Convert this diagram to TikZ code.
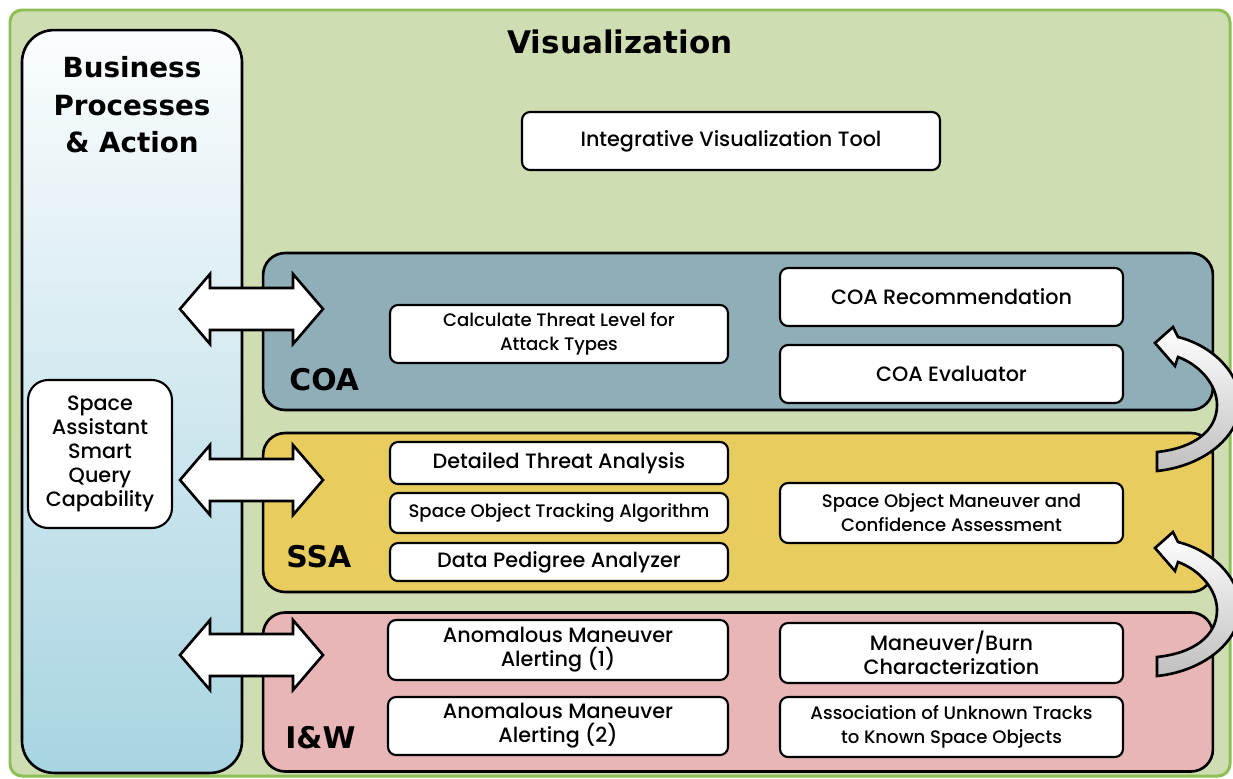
\documentclass[tikz,border=0pt]{standalone}
\usepackage{fontspec}
\IfFontExistsTF{Poppins Medium}{\setmainfont{Poppins Medium}}{\setmainfont{Poppins}}
\newfontfamily\headfont{DejaVu Sans}
\definecolor{vizgreen}{HTML}{CEDDB2}
\definecolor{vizedge}{HTML}{8DBF55}
\definecolor{bizblue}{HTML}{A8D4E2}
\definecolor{coafill}{HTML}{8FAEB7}
\definecolor{ssafill}{HTML}{E8CD5E}
\definecolor{iwfill}{HTML}{E8B6B6}
\tikzset{
  panel/.style={draw=black, line width=1.5pt, rounded corners=0.44cm, minimum width=19cm, inner sep=0},
  tool/.style={draw=black, fill=white, line width=1.2pt, rounded corners=0.16cm, align=center, inner sep=0,
    font=\fontsize{11.8}{13.6}\selectfont},
  smalltext/.style={font=\fontsize{10.3}{13.6}\selectfont},
  head/.style={font=\headfont\bfseries\fontsize{15.8}{21.3}\selectfont, align=center},
  layer/.style={font=\headfont\bfseries\fontsize{17}{20}\selectfont, anchor=west, inner sep=0},
  arrowline/.style={draw=black, fill=white, line width=1.5pt, line join=miter}
}
\begin{document}
\begin{tikzpicture}[x=0.02cm, y=-0.02cm]
    \useasboundingbox (0,0) rectangle (1233,778);
    \draw[vizedge, fill=vizgreen, line width=1.7pt, rounded corners=0.24cm] (10,10) rectangle (1230,776);

    \node[draw=black, line width=1.5pt, rounded corners=0.64cm, top color=white!95!bizblue, bottom color=bizblue,
      minimum width=4.4cm, minimum height=14.86cm] (biz) at (132,401.5) {};
    \node[head] (biztitle) at (132,105) {Business\\Processes\\\& Action};
    \node[head, font=\headfont\bfseries\fontsize{17.7}{20}\selectfont] (viztitle) at (620,42) {Visualization};
    \node[tool, minimum width=8.36cm, minimum height=1.16cm] (ivt) at (731,141) {Integrative Visualization Tool};

    \node[panel, fill=coafill, minimum height=3.14cm] (coa) at (738,331.5) {};
    \node[panel, fill=ssafill, minimum height=3.18cm] (ssa) at (738,512.5) {};
    \node[panel, fill=iwfill, minimum height=3.18cm] (iw) at (738,692) {};
    \node[layer] (coalbl) at (289,380) {COA};
    \node[layer] (ssalbl) at (286,557) {SSA};
    \node[layer] (iwlbl) at (285,738) {I\&W};

    \node[tool, minimum width=2.88cm, minimum height=2.96cm, rounded corners=0.4cm] (saq) at (100,454)
      {Space\\Assistant\\Smart\\Query\\Capability};

    \node[tool, smalltext, minimum width=6.76cm, minimum height=1.16cm] (threat) at (559,334) {Calculate Threat Level for\\Attack Types};
    \node[tool, minimum width=6.86cm, minimum height=1.16cm] (coarec) at (951.5,297) {COA Recommendation};
    \node[tool, minimum width=6.86cm, minimum height=1.16cm] (coaeval) at (951.5,374) {COA Evaluator};

    \node[tool, minimum width=6.76cm, minimum height=0.84cm] (detail) at (559,463) {Detailed Threat Analysis};
    \node[tool, smalltext, minimum width=6.76cm, minimum height=0.8cm] (track) at (559,513) {Space Object Tracking Algorithm};
    \node[tool, minimum width=6.76cm, minimum height=0.76cm] (pedigree) at (559,562) {Data Pedigree Analyzer};
    \node[tool, smalltext, minimum width=6.86cm, minimum height=1.2cm] (somca) at (951.5,513) {Space Object Maneuver and\\Confidence Assessment};

    \node[tool, minimum width=6.8cm, minimum height=1.2cm] (anom1) at (558,650) {Anomalous Maneuver\\Alerting (1)};
    \node[tool, minimum width=6.8cm, minimum height=1.16cm] (anom2) at (558,726) {Anomalous Maneuver\\Alerting (2)};
    \node[tool, minimum width=6.86cm, minimum height=1.2cm] (burn) at (951.5,653) {Maneuver/Burn\\Characterization};
    \node[tool, smalltext, minimum width=6.86cm, minimum height=1.2cm] (assoc) at (951.5,727) {Association of Unknown Tracks\\to Known Space Objects};

    \foreach \y/\n in {309/coa,480/ssa,655/iw} {
      \coordinate (arr\n) at (251.5,\y);
      \draw[arrowline] (arr\n) ++(-71.5,0) -- ++(30,-35) -- ++(0,14) -- ++(83,0) -- ++(0,-14) -- ++(30,35)
        -- ++(-30,35) -- ++(0,-14) -- ++(-83,0) -- ++(0,14) -- cycle;
    }

    \foreach \dy in {0,205}
      \shade[draw=black, line width=1.5pt, top color=white, bottom color=black!25, shift={(0,\dy)}]
        (1157,452) -- (1157,471) .. controls (1205,466) and (1242,435) .. (1240,400)
        .. controls (1238,370) and (1210,345) .. (1178,337) -- (1173,327) -- (1155,343) -- (1175,366) -- (1178,357)
        .. controls (1200,365) and (1217,385) .. (1217,405) .. controls (1217,430) and (1195,448) .. (1157,452) -- cycle;
\end{tikzpicture}
\end{document}
